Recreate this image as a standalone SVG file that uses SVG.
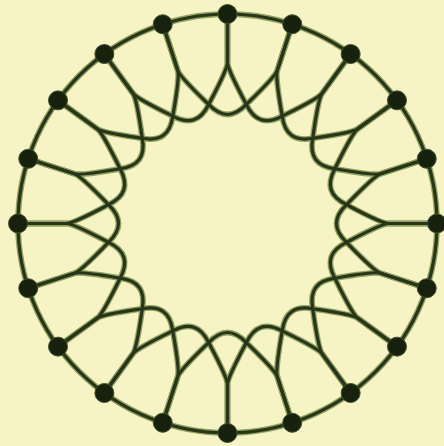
<svg xmlns="http://www.w3.org/2000/svg" xmlns:xlink="http://www.w3.org/1999/xlink" width="444" height="446" viewBox="0 0 444 446">
<style>
.node{fill:#19230f;stroke:#3f4e28;stroke-width:1}
</style>
<defs>
<filter id="soft" x="-5%" y="-5%" width="110%" height="110%"><feGaussianBlur stdDeviation="0.6"/></filter>
<path id="loop" d="M-64.74,-199.25 L-49.75,-153.12 C-47.6,-146.5 -27.5,-127.5 -18.85,-119.02 C-14.6,-114.6 -7.5,-109 0,-109 C7.5,-109 14.6,-114.6 18.85,-119.02 C27.5,-127.5 47.6,-146.5 49.75,-153.12 L64.74,-199.25"/>
</defs>
<rect width="444" height="446" fill="#f6f3c4"/>
<g filter="url(#soft)">
<use href="#connectors" xlink:href="#connectors" stroke="#91a25e" stroke-width="5.8" fill="none"/>
<g stroke="#26341a" stroke-width="3.2" fill="none" stroke-linecap="round" stroke-linejoin="round">
<g id="connectors" transform="translate(227.5 223.5)">
<circle cx="0" cy="0" r="209.5"/>
<use href="#loop" xlink:href="#loop"/>
<use href="#loop" xlink:href="#loop" transform="rotate(18)"/>
<use href="#loop" xlink:href="#loop" transform="rotate(36)"/>
<use href="#loop" xlink:href="#loop" transform="rotate(54)"/>
<use href="#loop" xlink:href="#loop" transform="rotate(72)"/>
<use href="#loop" xlink:href="#loop" transform="rotate(90)"/>
<use href="#loop" xlink:href="#loop" transform="rotate(108)"/>
<use href="#loop" xlink:href="#loop" transform="rotate(126)"/>
<use href="#loop" xlink:href="#loop" transform="rotate(144)"/>
<use href="#loop" xlink:href="#loop" transform="rotate(162)"/>
<use href="#loop" xlink:href="#loop" transform="rotate(180)"/>
<use href="#loop" xlink:href="#loop" transform="rotate(198)"/>
<use href="#loop" xlink:href="#loop" transform="rotate(216)"/>
<use href="#loop" xlink:href="#loop" transform="rotate(234)"/>
<use href="#loop" xlink:href="#loop" transform="rotate(252)"/>
<use href="#loop" xlink:href="#loop" transform="rotate(270)"/>
<use href="#loop" xlink:href="#loop" transform="rotate(288)"/>
<use href="#loop" xlink:href="#loop" transform="rotate(306)"/>
<use href="#loop" xlink:href="#loop" transform="rotate(324)"/>
<use href="#loop" xlink:href="#loop" transform="rotate(342)"/>
</g>
</g>
</g>
<g filter="url(#soft)">
<g id="n0"><circle class="node" cx="227.5" cy="14" r="9.5"/></g>
<g id="n1"><circle class="node" cx="292.24" cy="24.25" r="9.5"/></g>
<g id="n2"><circle class="node" cx="350.64" cy="54.01" r="9.5"/></g>
<g id="n3"><circle class="node" cx="396.99" cy="100.36" r="9.5"/></g>
<g id="n4"><circle class="node" cx="426.75" cy="158.76" r="9.5"/></g>
<g id="n5"><circle class="node" cx="437" cy="223.5" r="9.5"/></g>
<g id="n6"><circle class="node" cx="426.75" cy="288.24" r="9.5"/></g>
<g id="n7"><circle class="node" cx="396.99" cy="346.64" r="9.5"/></g>
<g id="n8"><circle class="node" cx="350.64" cy="392.99" r="9.5"/></g>
<g id="n9"><circle class="node" cx="292.24" cy="422.75" r="9.5"/></g>
<g id="n10"><circle class="node" cx="227.5" cy="433" r="9.5"/></g>
<g id="n11"><circle class="node" cx="162.76" cy="422.75" r="9.5"/></g>
<g id="n12"><circle class="node" cx="104.36" cy="392.99" r="9.5"/></g>
<g id="n13"><circle class="node" cx="58.01" cy="346.64" r="9.5"/></g>
<g id="n14"><circle class="node" cx="28.25" cy="288.24" r="9.5"/></g>
<g id="n15"><circle class="node" cx="18" cy="223.5" r="9.5"/></g>
<g id="n16"><circle class="node" cx="28.25" cy="158.76" r="9.5"/></g>
<g id="n17"><circle class="node" cx="58.01" cy="100.36" r="9.5"/></g>
<g id="n18"><circle class="node" cx="104.36" cy="54.01" r="9.5"/></g>
<g id="n19"><circle class="node" cx="162.76" cy="24.25" r="9.5"/></g>
</g>
</svg>
